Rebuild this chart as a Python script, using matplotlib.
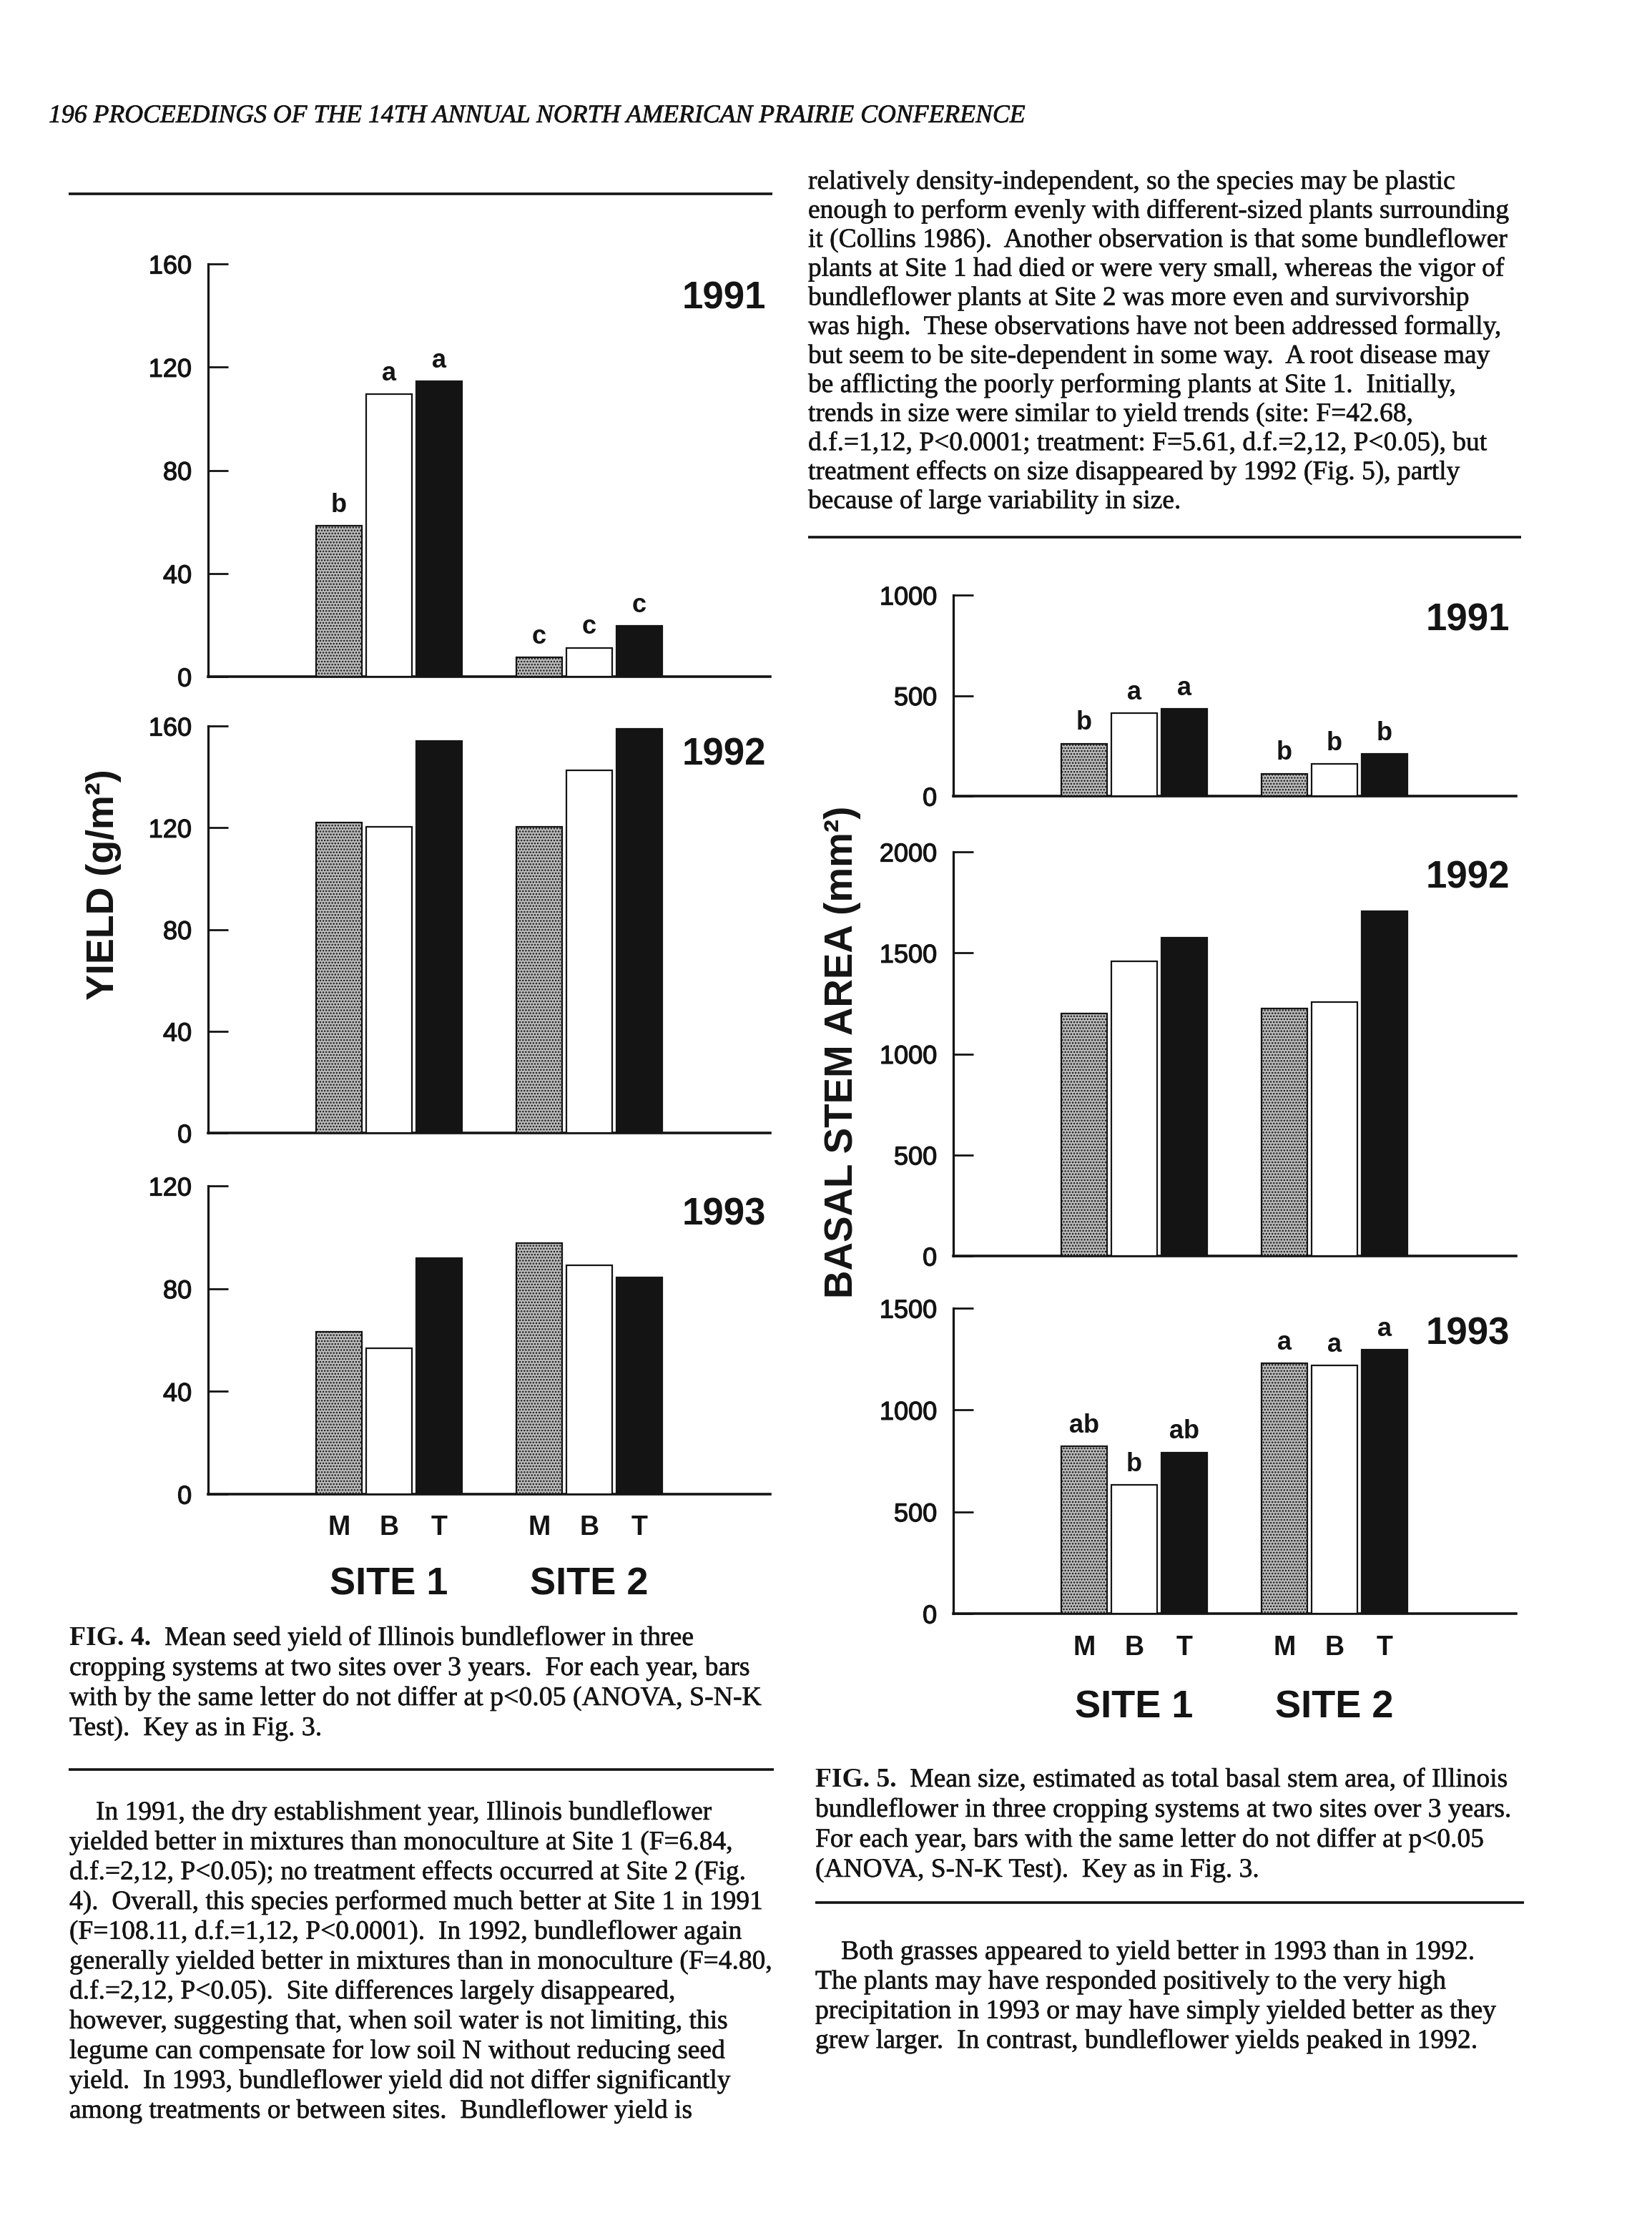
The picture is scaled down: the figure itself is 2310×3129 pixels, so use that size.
import matplotlib
matplotlib.use('Agg')
import matplotlib.pyplot as plt
import matplotlib.transforms as mtransforms
import matplotlib.patheffects as pe
from matplotlib.lines import Line2D

plt.rcParams['font.family'] = ['Liberation Sans', 'DejaVu Sans']
plt.rcParams['hatch.linewidth'] = 1.2

# ---------------------------------------------------------------- data
treatments = ['M', 'B', 'T']
sites = ['SITE 1', 'SITE 2']
years = ['1991', '1992', '1993']

# Fig. 4 - seed yield (g/m2)
yield_1991_site1 = [58.5, 109.5, 114.5]
yield_1991_site2 = [7.4, 11.2, 19.6]
yield_1992_site1 = [122.0, 120.3, 154.0]
yield_1992_site2 = [120.3, 142.5, 159.0]
yield_1993_site1 = [63.3, 56.8, 91.8]
yield_1993_site2 = [97.8, 89.2, 84.5]
yield_1991_letters_site1 = ['b', 'a', 'a']
yield_1991_letters_site2 = ['c', 'c', 'c']
yield_ticks_1991 = [0, 40, 80, 120, 160]
yield_ticks_1992 = [0, 40, 80, 120, 160]
yield_ticks_1993 = [0, 40, 80, 120]

# Fig. 5 - basal stem area (mm2)
area_1991_site1 = [260, 412, 434]
area_1991_site2 = [112, 159, 209]
area_1992_site1 = [1200, 1457, 1575]
area_1992_site2 = [1225, 1256, 1707]
area_1993_site1 = [822, 632, 792]
area_1993_site2 = [1228, 1219, 1295]
area_1991_letters_site1 = ['b', 'a', 'a']
area_1991_letters_site2 = ['b', 'b', 'b']
area_1993_letters_site1 = ['ab', 'b', 'ab']
area_1993_letters_site2 = ['a', 'a', 'a']
area_ticks_1991 = [0, 500, 1000]
area_ticks_1992 = [0, 500, 1000, 1500, 2000]
area_ticks_1993 = [0, 500, 1000, 1500]

header = "196 PROCEEDINGS OF THE 14TH ANNUAL NORTH AMERICAN PRAIRIE CONFERENCE"

right_top_lines = [
    "relatively density-independent, so the species may be plastic",
    "enough to perform evenly with different-sized plants surrounding",
    "it (Collins 1986).  Another observation is that some bundleflower",
    "plants at Site 1 had died or were very small, whereas the vigor of",
    "bundleflower plants at Site 2 was more even and survivorship",
    "was high.  These observations have not been addressed formally,",
    "but seem to be site-dependent in some way.  A root disease may",
    "be afflicting the poorly performing plants at Site 1.  Initially,",
    "trends in size were similar to yield trends (site: F=42.68,",
    "d.f.=1,12, P<0.0001; treatment: F=5.61, d.f.=2,12, P<0.05), but",
    "treatment effects on size disappeared by 1992 (Fig. 5), partly",
    "because of large variability in size.",
]

fig4_prefix = "FIG. 4."
fig4_lines = [
    "Mean seed yield of Illinois bundleflower in three",
    "cropping systems at two sites over 3 years.  For each year, bars",
    "with by the same letter do not differ at p<0.05 (ANOVA, S-N-K",
    "Test).  Key as in Fig. 3.",
]

left_para_lines = [
    "In 1991, the dry establishment year, Illinois bundleflower",
    "yielded better in mixtures than monoculture at Site 1 (F=6.84,",
    "d.f.=2,12, P<0.05); no treatment effects occurred at Site 2 (Fig.",
    "4).  Overall, this species performed much better at Site 1 in 1991",
    "(F=108.11, d.f.=1,12, P<0.0001).  In 1992, bundleflower again",
    "generally yielded better in mixtures than in monoculture (F=4.80,",
    "d.f.=2,12, P<0.05).  Site differences largely disappeared,",
    "however, suggesting that, when soil water is not limiting, this",
    "legume can compensate for low soil N without reducing seed",
    "yield.  In 1993, bundleflower yield did not differ significantly",
    "among treatments or between sites.  Bundleflower yield is",
]

fig5_prefix = "FIG. 5."
fig5_lines = [
    "Mean size, estimated as total basal stem area, of Illinois",
    "bundleflower in three cropping systems at two sites over 3 years.",
    "For each year, bars with the same letter do not differ at p<0.05",
    "(ANOVA, S-N-K Test).  Key as in Fig. 3.",
]

right_para_lines = [
    "Both grasses appeared to yield better in 1993 than in 1992.",
    "The plants may have responded positively to the very high",
    "precipitation in 1993 or may have simply yielded better as they",
    "grew larger.  In contrast, bundleflower yields peaked in 1992.",
]

# ---------------------------------------------------------------- page setup
W, H = 2310, 3129
fig = plt.figure(figsize=(W / 100, H / 100), dpi=100)
fig.patch.set_facecolor('white')
renderer = fig.canvas.get_renderer()
INK = '#141414'
SERIF = ['Liberation Serif', 'DejaVu Serif']
HEAVY = [pe.withStroke(linewidth=0.9, foreground=INK)]


def fig_xy(x, y):
    return x / W, 1.0 - y / H


def put(x, y, s, **kw):
    fx, fy = fig_xy(x, y)
    kw.setdefault('color', INK)
    return fig.text(fx, fy, s, **kw)


def text_width(s, size, **kw):
    t = fig.text(0, 0, s, fontsize=size, **kw)
    w = t.get_window_extent(renderer=renderer).width
    t.remove()
    return w


def fitted_size(s, target, **kw):
    return 40.0 * target / text_width(s, 40.0, **kw)


def rule(x0, x1, y, lw=2.6):
    fx0, fy0 = fig_xy(x0, y)
    fx1, _ = fig_xy(x1, y)
    fig.add_artist(Line2D([fx0, fx1], [fy0, fy0], transform=fig.transFigure,
                          color=INK, linewidth=lw, solid_capstyle='butt'))


def paragraph(lines, x, y0, dy, size, indent=0):
    for i, ln in enumerate(lines):
        put(x + (indent if i == 0 else 0), y0 + i * dy, ln, fontsize=size,
            family=SERIF, va='baseline', ha='left', path_effects=[pe.withStroke(linewidth=0.4, foreground=INK)])


def caption(prefix, lines, x, y0, dy, size):
    wb = text_width(prefix, size, family=SERIF, fontweight='bold')
    gap = text_width('a  a', size, family=SERIF) - text_width('aa', size, family=SERIF)
    stroke = [pe.withStroke(linewidth=0.4, foreground=INK)]
    put(x, y0, prefix, fontsize=size, family=SERIF, fontweight='bold', va='baseline')
    put(x + wb + gap, y0, lines[0], fontsize=size, family=SERIF, va='baseline', path_effects=stroke)
    for i, ln in enumerate(lines[1:], 1):
        put(x, y0 + i * dy, ln, fontsize=size, family=SERIF, va='baseline', path_effects=stroke)


# ---------------------------------------------------------------- header and text
hsize = fitted_size(header, 1364, family=SERIF, style='italic')
put(68, 171, header, fontsize=hsize, family=SERIF, style='italic', va='baseline',
    path_effects=[pe.withStroke(linewidth=0.5, foreground=INK)])

rule(96, 1080, 271)
rule(1130, 2127, 751)
rule(96, 1082, 2474)
rule(1140, 2131, 2660)

rt_size = fitted_size(right_top_lines[1], 978, family=SERIF)
paragraph(right_top_lines, 1130, 264, 40.6, rt_size)

f4_size = fitted_size(fig4_lines[2], 966, family=SERIF)
caption(fig4_prefix, fig4_lines, 97, 2300, 42, f4_size)

lp_size = fitted_size(left_para_lines[5], 981, family=SERIF)
paragraph(left_para_lines, 97, 2544, 41.7, lp_size, indent=37)

f5_size = fitted_size(fig5_lines[1], 971, family=SERIF)
caption(fig5_prefix, fig5_lines, 1140, 2498, 42, f5_size)

rp_size = fitted_size(right_para_lines[2], 950, family=SERIF)
paragraph(right_para_lines, 1140, 2739, 41.4, rp_size, indent=36)

# ---------------------------------------------------------------- bar panels
BAR_STEP_PX = 70.0
FIRST = 2.61
GROUP = 4
BAR_W = 0.91
bar_styles = [
    dict(facecolor='#bdbdbd', edgecolor=INK, hatch='....', linewidth=1.6),
    dict(facecolor='white', edgecolor=INK, linewidth=1.6),
    dict(facecolor=INK, edgecolor=INK, linewidth=1.6),
]


def panel(box, ymax, ticks, vals1, vals2, lets1=None, lets2=None):
    left, top, right, bottom = box
    ax = fig.add_axes([left / W, 1 - bottom / H, (right - left) / W, (bottom - top) / H])
    ax.set_xlim(0, (right - left) / BAR_STEP_PX)
    ax.set_ylim(0, ymax)
    ax.patch.set_alpha(0)
    for sp in ('top', 'right'):
        ax.spines[sp].set_visible(False)
    ax.spines['left'].set_linewidth(2.3)
    ax.spines['bottom'].set_linewidth(2.6)
    ax.spines['left'].set_color(INK)
    ax.spines['bottom'].set_color(INK)
    ax.set_yticks(ticks)
    ax.set_yticklabels([str(t) for t in ticks])
    ax.tick_params(axis='y', direction='in', length=20.5, width=2.0, pad=16.5,
                   labelsize=26, colors=INK)
    for lab in ax.get_yticklabels():
        lab.set_path_effects(HEAVY)
    ax.set_xticks([])
    for si, (vals, lets) in enumerate([(vals1, lets1), (vals2, lets2)]):
        for ti, v in enumerate(vals):
            x = FIRST + GROUP * si + ti
            ax.bar(x, v, BAR_W, clip_on=False, zorder=3, **bar_styles[ti])
            if lets:
                ax.annotate(lets[ti], (x, v), xytext=(0, 14), textcoords='offset points',
                            ha='center', va='baseline', fontsize=26, fontweight='bold',
                            color=INK, annotation_clip=False)
    return ax


def site_labels(ax, mbt_baseline, site_baseline):
    trans = mtransforms.blended_transform_factory(ax.transData, fig.transFigure)
    for si, site in enumerate(sites):
        for ti, tr in enumerate(treatments):
            x = FIRST + GROUP * si + ti
            ax.text(x, fig_xy(0, mbt_baseline)[1], tr, transform=trans, ha='center',
                    va='baseline', fontsize=27, fontweight='bold', color=INK)
        xc = FIRST + GROUP * si + 1
        ax.text(xc, fig_xy(0, site_baseline)[1], site, transform=trans, ha='center',
                va='baseline', fontsize=39, fontweight='bold', color=INK)


# Fig. 4 panels
panel((291, 369, 1077, 946), 160, yield_ticks_1991, yield_1991_site1, yield_1991_site2,
      yield_1991_letters_site1, yield_1991_letters_site2)
panel((291, 1015, 1077, 1584), 160, yield_ticks_1992, yield_1992_site1, yield_1992_site2)
ax4c = panel((291, 1658, 1077, 2089), 120, yield_ticks_1993, yield_1993_site1, yield_1993_site2)
site_labels(ax4c, 2146, 2230)

put(1071, 431, years[0], ha='right', va='baseline', fontsize=38, fontweight='bold')
put(1071, 1069, years[1], ha='right', va='baseline', fontsize=38, fontweight='bold')
put(1071, 1712, years[2], ha='right', va='baseline', fontsize=38, fontweight='bold')

ylab1 = "YIELD (g/m²)"
ys1 = fitted_size(ylab1, 322, fontweight='bold')
put(145, 1237, ylab1, rotation=90, ha='center', va='center', fontsize=ys1, fontweight='bold')

# Fig. 5 panels
panel((1333, 832, 2120, 1113), 1000, area_ticks_1991, area_1991_site1, area_1991_site2,
      area_1991_letters_site1, area_1991_letters_site2)
panel((1333, 1191, 2120, 1756), 2000, area_ticks_1992, area_1992_site1, area_1992_site2)
ax5c = panel((1333, 1829, 2120, 2256), 1500, area_ticks_1993, area_1993_site1, area_1993_site2,
             area_1993_letters_site1, area_1993_letters_site2)
site_labels(ax5c, 2314, 2402)

put(2111, 881, years[0], ha='right', va='baseline', fontsize=38, fontweight='bold')
put(2111, 1241, years[1], ha='right', va='baseline', fontsize=38, fontweight='bold')
put(2111, 1880, years[2], ha='right', va='baseline', fontsize=38, fontweight='bold')

ylab2 = "BASAL STEM AREA (mm²)"
ys2 = fitted_size(ylab2, 688, fontweight='bold')
put(1178, 1471, ylab2, rotation=90, ha='center', va='center', fontsize=ys2, fontweight='bold')

fig.savefig('out.png', dpi=100, facecolor='white')
